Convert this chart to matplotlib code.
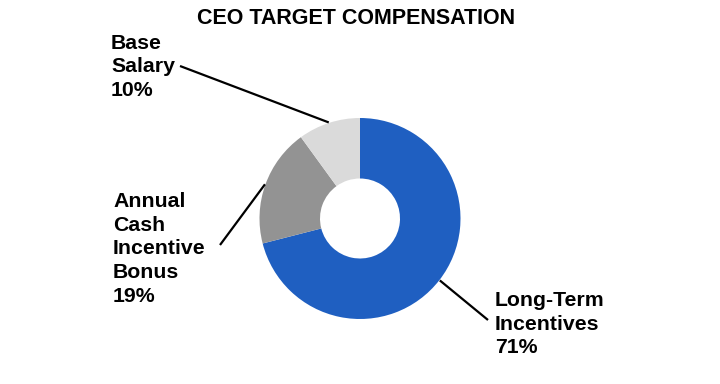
import numpy as np
import matplotlib
matplotlib.use('Agg')
import matplotlib.pyplot as plt

plt.rcParams['font.family'] = ['Liberation Sans', 'DejaVu Sans']

# Data
labels = ['Long-Term\nIncentives', 'Annual\nCash\nIncentive\nBonus', 'Base\nSalary']
shares = [71, 19, 10]
colors = ['#1F5FC1', '#939393', '#DADADA']
title = 'CEO TARGET COMPENSATION'

# Layout (figure pixels, y measured from the bottom)
W, H = 720, 384
CENTER = (360, H - 218.5)
R_OUT = 100.5
R_IN = 40
label_pos = [(495, H - 324), (113, H - 249), (111, H - 67)]
line_start = [(488, H - 320), (220, H - 245), (180, H - 66)]
FONT_LBL = 15.3

fig = plt.figure(figsize=(W / 100, H / 100), dpi=100)
ax = fig.add_axes([0, 0, 1, 1])

wedges, _ = ax.pie(shares, colors=colors, startangle=90, counterclock=False,
                   center=CENTER, radius=R_OUT,
                   wedgeprops=dict(width=R_OUT - R_IN, linewidth=0))
ax.set_xlim(0, W)
ax.set_ylim(0, H)
ax.set_aspect('equal')
ax.axis('off')

for w, lab, val, tp, ls in zip(wedges, labels, shares, label_pos, line_start):
    mid = np.deg2rad((w.theta1 + w.theta2) / 2)
    ex = CENTER[0] + (R_OUT + 0.5) * np.cos(mid)
    ey = CENTER[1] + (R_OUT + 0.5) * np.sin(mid)
    ax.plot([ls[0], ex], [ls[1], ey], color='black', linewidth=1.6,
            solid_capstyle='butt')
    ax.text(tp[0], tp[1], f"{lab}\n{val}%", ha='left', va='center',
            fontsize=FONT_LBL, fontweight='bold', color='black', linespacing=1.31)

ax.text(356.5, H - 19, title, ha='center', va='center', fontsize=15.5,
        fontweight='bold', color='black')

fig.savefig('out.png', dpi=100)
